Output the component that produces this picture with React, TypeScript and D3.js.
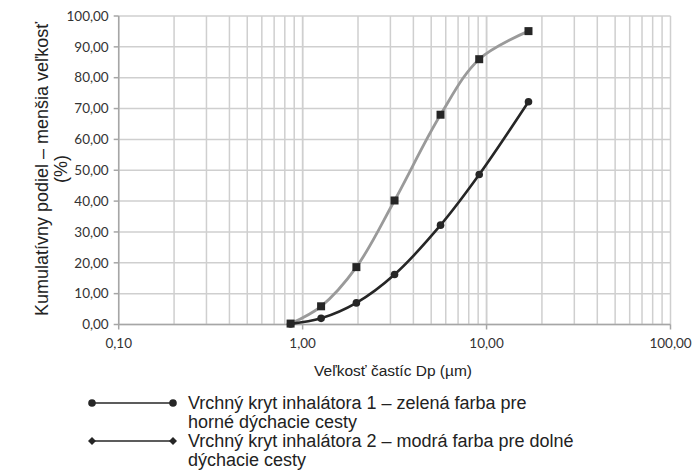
import React from "react";
import * as d3 from "d3";

const particleSizes = [0.86, 1.26, 1.96, 3.16, 5.62, 9.12, 16.9];
const seriesLightValues = [0.3, 5.9, 18.6, 40.2, 68.0, 86.0, 95.1];
const seriesDarkValues = [0.2, 2.0, 7.0, 16.2, 32.2, 48.6, 72.2];
const xTickValues = [0.1, 1, 10, 100];
const yTickValues = [0, 10, 20, 30, 40, 50, 60, 70, 80, 90, 100];
const xTitle = "Veľkosť častíc Dp (µm)";
const yTitleLines = ["Kumulatívny podiel – menšia veľkosť", "(%)"];
const legendEntries = [
  ["Vrchný kryt inhalátora 1 – zelená farba pre", "horné dýchacie cesty"],
  ["Vrchný kryt inhalátora 2 – modrá farba pre dolné", "dýchacie cesty"],
];

const fmt = (v: number) => v.toFixed(2).replace(".", ",");

export default function App() {
  const W = 693, H = 476;
  const x = d3.scaleLog().domain([0.1, 100]).range([118.7, 670.5]);
  const y = d3.scaleLinear().domain([0, 100]).range([324.5, 16]);

  const minorX: number[] = [];
  [0.1, 1, 10].forEach((d) => {
    for (let k = 1; k <= 10; k++) minorX.push(d * k);
  });

  const line = d3
    .line<number>()
    .x((_, i) => x(particleSizes[i]))
    .y((v) => y(v))
    .curve(d3.curveCatmullRom.alpha(0.5));

  const gridColor = "#cfcfcf";
  const axisColor = "#a6a6a6";
  const tickFont = "Lato, 'Open Sans', sans-serif";
  const textFont = "'Liberation Sans', Arial, sans-serif";

  return (
    <svg width={W} height={H} style={{ position: "absolute", left: 0, top: 0, background: "#fff" }}>
      <rect width={W} height={H} fill="#fff" />
      {/* vertical grid */}
      {minorX.map((v, i) => (
        <line key={"vx" + i} x1={x(v)} x2={x(v)} y1={y(100)} y2={y(0)} stroke={gridColor} strokeWidth={1.5} />
      ))}
      {/* horizontal grid */}
      {yTickValues.map((v) => (
        <line key={"hy" + v} x1={x(0.1)} x2={x(100)} y1={y(v)} y2={y(v)} stroke={gridColor} strokeWidth={1.5} />
      ))}
      {/* axes */}
      <line x1={x(0.1)} x2={x(100)} y1={y(0)} y2={y(0)} stroke={axisColor} strokeWidth={1.5} />
      <line x1={x(0.1)} x2={x(0.1)} y1={y(0)} y2={y(100)} stroke={axisColor} strokeWidth={1.5} />
      {yTickValues.map((v) => (
        <g key={"yt" + v}>
          <line x1={x(0.1) - 5} x2={x(0.1)} y1={y(v)} y2={y(v)} stroke={axisColor} strokeWidth={1.5} />
          <text x={x(0.1) - 10} y={y(v)} dy="0.35em" textAnchor="end" fontFamily={tickFont} fontSize={13.5} fill="#333">
            {fmt(v)}
          </text>
        </g>
      ))}
      {xTickValues.map((v) => (
        <g key={"xt" + v}>
          <line x1={x(v)} x2={x(v)} y1={y(0)} y2={y(0) + 5} stroke={axisColor} strokeWidth={1.5} />
          <text x={x(v)} y={y(0) + 19} dy="0.35em" textAnchor="middle" fontFamily={tickFont} fontSize={13.5} fill="#333">
            {fmt(v)}
          </text>
        </g>
      ))}
      {/* series */}
      <path d={line(seriesLightValues) || ""} fill="none" stroke="#9a9a9a" strokeWidth={2.8} />
      <path d={line(seriesDarkValues) || ""} fill="none" stroke="#262626" strokeWidth={2.6} />
      {seriesLightValues.map((v, i) => (
        <rect key={"sq" + i} x={x(particleSizes[i]) - 4} y={y(v) - 4} width={8} height={8} fill="#262626" />
      ))}
      {seriesDarkValues.map((v, i) => (
        <circle key={"ci" + i} cx={x(particleSizes[i])} cy={y(v)} r={3.8} fill="#262626" />
      ))}
      {/* axis titles */}
      <text x={393} y={371} dy="0.35em" textAnchor="middle" fontFamily={textFont} fontSize={15.5} fill="#222">
        {xTitle}
      </text>
      <g transform="translate(0,169) rotate(-90)">
        <text x={0} y={48} textAnchor="middle" fontFamily={textFont} fontSize={18} fill="#222">
          {yTitleLines[0]}
        </text>
        <text x={0} y={67} textAnchor="middle" fontFamily={textFont} fontSize={18} fill="#222">
          {yTitleLines[1]}
        </text>
      </g>
      {/* legend */}
      {legendEntries.map((lines, i) => {
        const ly = 403 + i * 38;
        return (
          <g key={"lg" + i}>
            <line x1={92} x2={173} y1={ly} y2={ly} stroke="#262626" strokeWidth={1.5} />
            {i === 0 ? (
              <>
                <circle cx={92} cy={ly} r={3.8} fill="#262626" />
                <circle cx={173} cy={ly} r={3.8} fill="#262626" />
              </>
            ) : (
              <>
                <path d={`M${92},${ly - 4}L${96},${ly}L${92},${ly + 4}L${88},${ly}Z`} fill="#262626" />
                <path d={`M${173},${ly - 4}L${177},${ly}L${173},${ly + 4}L${169},${ly}Z`} fill="#262626" />
              </>
            )}
            {lines.map((t, j) => (
              <text key={j} x={188} y={ly + j * 19} dy="0.35em" fontFamily={textFont} fontSize={18} fill="#222">
                {t}
              </text>
            ))}
          </g>
        );
      })}
    </svg>
  );
}
